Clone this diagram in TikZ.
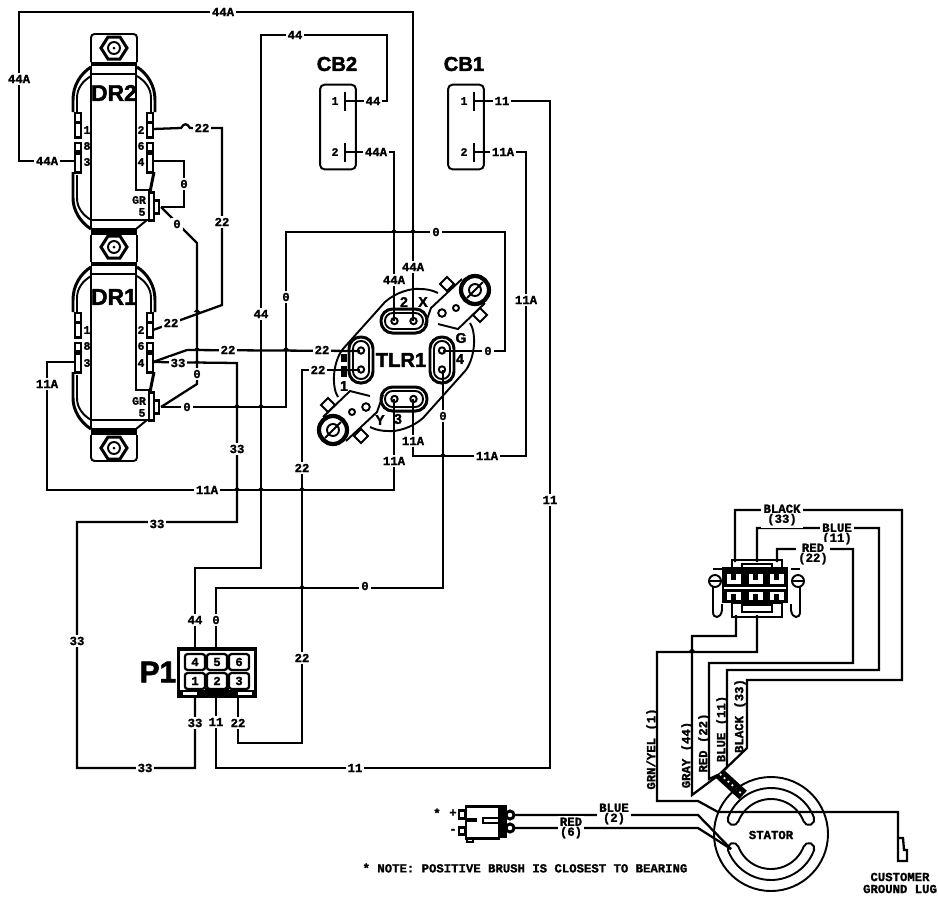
\documentclass[tikz,border=0pt]{standalone}
\usepackage{fontspec}
\setmainfont{Liberation Sans}[BoldFeatures={FakeBold=2}]
\setmonofont{Liberation Mono}[BoldFeatures={FakeBold=1.5}]

\tikzset{
  cadlab/.style={inner sep=0pt, font=\ttfamily\bfseries\fontsize{7}{5.7}\selectfont, align=center},
  wirelab/.style={cadlab, fill=white, inner sep=1.2pt},
  pinlab/.style={inner sep=0pt, font=\ttfamily\bfseries\fontsize{6.5}{6.5}\selectfont},
  biglab/.style={inner sep=0pt, font=\bfseries\fontsize{#1}{#1}\selectfont},
  wire/.style={line width=1.3pt, line join=miter},
  part/.style={line width=1.1pt},
  heavy/.style={line width=1.7pt},
  p1cell/.style={draw, line width=1.3pt, rounded corners=1.5pt, minimum width=11.5pt, minimum height=9pt, inner sep=0pt, font=\ttfamily\bfseries\fontsize{7}{7}\selectfont},
  cbbox/.style={draw, line width=1.1pt, rounded corners=2.5pt, minimum width=20.4pt, minimum height=48.2pt},
}

\begin{document}
\begin{tikzpicture}[x=.02cm, y=-.02cm]

\useasboundingbox (0,0) rectangle (938,897) ;

\coordinate (dr2pin2) at (153,129) ;
\coordinate (dr2pin3) at (75,161) ;
\coordinate (dr2pin4) at (153,161) ;
\coordinate (dr2gnd) at (161,207) ;
\coordinate (dr1pin2) at (153,330) ;
\coordinate (dr1pin3) at (75,362) ;
\coordinate (dr1pin4) at (153,362) ;
\coordinate (dr1gnd) at (161,407) ;
\coordinate (cb2a) at (345,101) ;
\coordinate (cb2b) at (345,152) ;
\coordinate (cb1a) at (474,101) ;
\coordinate (cb1b) at (474,152) ;
\coordinate (tlrxa) at (394,321) ;
\coordinate (tlrxb) at (413,321) ;
\coordinate (tlrya) at (394,399) ;
\coordinate (tlryb) at (413,399) ;
\coordinate (tlrla) at (360,351) ;
\coordinate (tlrlb) at (360,370) ;
\coordinate (tlrga) at (443,351) ;
\coordinate (tlrgb) at (443,370) ;
\coordinate (p1pin4) at (195,650) ;
\coordinate (p1pin5) at (216,650) ;
\coordinate (p1pin1) at (195,695) ;
\coordinate (p1pin2) at (216,695) ;
\coordinate (p1pin3) at (238,695) ;
\coordinate (plugblack) at (735,562) ;
\coordinate (plugblue) at (757,562) ;
\coordinate (plugred) at (777,562) ;
\coordinate (pluggray) at (736,615) ;
\coordinate (pluggrn) at (757,615) ;
\coordinate (statlead) at (720,774) ;
\coordinate (lugtop) at (898,838) ;
\coordinate (brushp) at (515,815) ;
\coordinate (brushn) at (515,828) ;
\coordinate (slotend) at (731,849) ;

\foreach \dy in {0,200} {
\begin{scope}[shift={(114,\dy)}]
\draw [part] (-23,66) to (-23,220) ;
\draw [part] (22,66) to (22,190) to (36,190) ;
\draw [part] (-23,229) to (23,229) ;
\draw [part] (-23,220) to (36,220) ;
\draw [part] (-23,74) to (23,74) ;
\fill (-23,62) rectangle (23,66) ;
\fill (-23,230) rectangle (23,235) ;
\draw [part] (22,229) to (33,220) ;
\draw [part] (-23,220) to (-23,229) ;
\foreach \mx in {1,-1} {
\begin{scope}[xscale=\mx]
\draw [heavy] (-23,67) .. controls (-34,74) and (-41,86) .. (-41,100) to (-41,112) ;
\draw [part] (-23,76) .. controls (-31,81) and (-37,88) .. (-37,98) to (-37,112) ;
\draw [part] (-39,113) rectangle (-33,122) ;
\draw [heavy] (-39,122) rectangle (-33,137) ;
\draw [part] (-39,143) rectangle (-33,151) ;
\draw [heavy] (-39,153) rectangle (-33,172) ;
\end{scope}
}
\draw [heavy] (-41,172) to (-41,198) .. controls (-41,210) and (-34,222) .. (-23,229) ;
\draw [part] (-37,175) to (-37,198) .. controls (-37,208) and (-31,215) .. (-23,220) ;
\draw [heavy] (40,172) to (36,192) ;
\draw [heavy, fill=white] (35,192) rectangle (40,220) ;
\draw [heavy, fill=white] (40,200) rectangle (45,213) ;
\end{scope}
}

\foreach \ny in {48,247,448} {
\draw [heavy, shift={(114,\ny)}] (-13,0) to (-6,-11) to (6,-11) to (13,0) to (6,11) to (-6,11) -- cycle ;
\draw [part, shift={(114,\ny)}] (0,0) circle [radius=6] ;
\fill [shift={(114,\ny)}] (0,0) circle [radius=1.5] ;
}
\draw [part, rounded corners=2pt] (91,62) to (91,34) to (137,34) to (137,62) ;
\draw [part] (91,235) to (91,262) ;
\draw [part] (137,235) to (137,262) ;
\draw [part, rounded corners=2pt] (91,435) to (91,461) to (137,461) to (137,435) ;

\node [biglab=13] (dr2) at (114,93) {DR2} ;
\node [biglab=13] (dr1) at (114,297) {DR1} ;
\node [pinlab] (dr2n1) at (87,130) {1} ;
\node [pinlab] (dr2n8) at (87,146) {8} ;
\node [pinlab] (dr2n3) at (87,162) {3} ;
\node [pinlab] (dr2n2) at (141,130) {2} ;
\node [pinlab] (dr2n6) at (141,146) {6} ;
\node [pinlab] (dr2n4) at (141,162) {4} ;
\node [pinlab] (dr2gr) at (139,200) {GR} ;
\node [pinlab] (dr2n5) at (142,212) {5} ;
\node [pinlab] (dr1n1) at (87,330) {1} ;
\node [pinlab] (dr1n8) at (87,346) {8} ;
\node [pinlab] (dr1n3) at (87,363) {3} ;
\node [pinlab] (dr1n2) at (141,330) {2} ;
\node [pinlab] (dr1n6) at (141,346) {6} ;
\node [pinlab] (dr1n4) at (141,363) {4} ;
\node [pinlab] (dr1gr) at (139,401) {GR} ;
\node [pinlab] (dr1n5) at (142,413) {5} ;

\node [cbbox] (cb2) at (338,127) {} ;
\node [cbbox] (cb1) at (466,127) {} ;
\node [biglab=11.5] (cb2lab) at (337,64) {CB2} ;
\node [biglab=11.5] (cb1lab) at (464,64) {CB1} ;
\draw [heavy] (345,92) to (345,111) ;
\draw [heavy] (345,143) to (345,162) ;
\draw [heavy] (474,92) to (474,111) ;
\draw [heavy] (474,143) to (474,162) ;
\node [pinlab] (cb2n1) at (335,101) {1} ;
\node [pinlab] (cb2n2) at (335,152) {2} ;
\node [pinlab] (cb1n1) at (464,101) {1} ;
\node [pinlab] (cb1n2) at (464,152) {2} ;

\foreach \ra in {0,180} {
\begin{scope}[shift={(404,360)}, rotate=\ra]
\draw [part] (-62,-10) to (-19,-58) .. controls (-8,-68) and (8,-72) .. (16,-71) .. controls (22,-71) and (28,-70) .. (34,-67) ;
\draw [part] (66,-37) .. controls (72,-28) and (72,-5) .. (62,10) ;
\draw [part] (21,-35) to (27,-52) to (58,-81) ;
\draw [part] (81,-57) to (54,-31) to (34,-36) ;
\draw [line width=2.4pt, fill=white] (71,-70) circle [radius=14] ;
\draw [part] (71,-70) circle [radius=6] ;
\draw [part] (63,-62) to (79,-78) ;
\draw [part] (38,-47) circle [radius=3.8] ;
\draw [part] (52,-52) circle [radius=3] ;
\draw [part, fill=white, shift={(43,-76)}] (-7,0) to (0,-7) to (7,0) to (0,7) -- cycle ;
\draw [part, fill=white, shift={(76,-45)}] (-7,0) to (0,-7) to (7,0) to (0,7) -- cycle ;
\end{scope}
}
\foreach \cx/\cy/\ca in {404/321/0,404/399/0,361/360/90,442/360/90} {
\begin{scope}[shift={(\cx,\cy)}, rotate=\ca]
\draw [heavy, rounded corners=6.6pt] (-23,-12) rectangle (23,12) ;
\draw [part, rounded corners=4.4pt] (-19,-8) rectangle (19,8) ;
\draw [part] (-9.5,0) circle [radius=3.2] ;
\draw [part] (9.5,0) circle [radius=3.2] ;
\end{scope}
}
\node [biglab=11.5] (tlr1) at (401,360) {TLR1} ;
\node [biglab=8] (tlrn2) at (404,302) {2} ;
\node [biglab=8] (tlrnx) at (423,302) {X} ;
\node [biglab=8] (tlrng) at (461,338) {G} ;
\node [biglab=8] (tlrn4) at (460,359) {4} ;
\node [biglab=8] (tlrn1) at (344,386) {1} ;
\node [biglab=8] (tlrny) at (380,420) {Y} ;
\node [biglab=8] (tlrn3) at (398,419) {3} ;
\fill (341,354) rectangle (347,362) ;
\fill (341,366) rectangle (347,377) ;

\draw [part, fill=white] (178,648) rectangle (256,697) ;
\draw [heavy] (179,649) rectangle (255,696) ;
\fill (179,690) rectangle (255,697) ;
\fill [white] (183,692) rectangle (197,695) ;
\fill [white] (238,692) rectangle (252,695) ;
\fill (205,688) rectangle (229,698) ;
\node [p1cell] (p1c4) at (195,662) {4} ;
\node [p1cell] (p1c5) at (217,662) {5} ;
\node [p1cell] (p1c6) at (239,662) {6} ;
\node [p1cell, fill=white] (p1c1) at (195,681) {1} ;
\node [p1cell, fill=white] (p1c2) at (217,681) {2} ;
\node [p1cell, fill=white] (p1c3) at (239,681) {3} ;
\node [biglab=17] (p1lab) at (158,672) {P1} ;

\draw [wire] (dr2pin3) to (19,161) to (19,12) to (413,12) to (tlrxb) ;
\draw [wire] (p1pin4) to (195,568) to (261,568) to (261,35) to (387,35) to (387,101) to (cb2a) ;
\draw [wire] (cb2b) to (394,152) to (tlrxa) ;
\draw [wire] (cb1a) to (550,101) to (550,768) to (216,768) to (p1pin2) ;
\draw [wire] (cb1b) to (526,152) to (526,456) to (413,456) to (tlryb) ;
\draw [wire] (tlrya) to (394,490) to (47,490) to (47,362) to (dr1pin3) ;
\draw [wire] (dr2pin4) to (184,161) to (184,207) to (dr2gnd) ;
\draw [wire] (dr2gnd) to (197,243) to (197,384) to (dr1gnd) ;
\draw [wire] (dr1gnd) to (286,407) to (286,232) to (505,232) to (505,351) to (tlrga) ;
\draw [wire] (tlrgb) to (443,588) to (216,588) to (p1pin5) ;
\draw [wire] (dr2pin2) to (181,128) .. controls (184,123) and (187,123) .. (190,128) to (222,128) to (222,305) to (dr1pin2) ;
\draw [wire] (dr1pin4) to (187,350) to (tlrla) ;
\draw [wire] (dr1pin4) to (237,363) to (237,522) to (77,522) to (77,768) to (195,768) to (p1pin1) ;
\draw [wire] (tlrlb) to (302,370) to (302,743) to (238,743) to (p1pin3) ;

\foreach \hx/\hy in {197/312,197/350,197/363,237/407,261/407,286/350,237/490,261/490,302/490,394/232,413/232,443/456,302/588} {
\fill ({\hx-3.5},\hy) to (\hx,{\hy-3.5}) to ({\hx+3.5},\hy) -- cycle ;
}

\node [wirelab] (w01) at (223,12) {44A} ;
\node [wirelab] (w02) at (19,79) {44A} ;
\node [wirelab] (w03) at (47,161) {44A} ;
\node [wirelab] (w04) at (413,267) {44A} ;
\node [wirelab] (w05) at (295,35) {44} ;
\node [wirelab] (w06) at (261,314) {44} ;
\node [wirelab] (w07) at (195,620) {44} ;
\node [wirelab] (w08) at (373,101) {44} ;
\node [wirelab] (w09) at (376,152) {44A} ;
\node [wirelab] (w10) at (394,280) {44A} ;
\node [wirelab] (w11) at (502,101) {11} ;
\node [wirelab] (w12) at (550,500) {11} ;
\node [wirelab] (w13) at (355,768) {11} ;
\node [wirelab] (w14) at (216,722) {11} ;
\node [wirelab] (w15) at (503,152) {11A} ;
\node [wirelab] (w16) at (526,300) {11A} ;
\node [wirelab] (w17) at (487,456) {11A} ;
\node [wirelab] (w18) at (413,441) {11A} ;
\node [wirelab] (w19) at (394,461) {11A} ;
\node [wirelab] (w20) at (207,490) {11A} ;
\node [wirelab] (w21) at (47,384) {11A} ;
\node [wirelab] (w22) at (184,184) {0} ;
\node [wirelab] (w23) at (177,224) {0} ;
\node [wirelab] (w24) at (197,374) {0} ;
\node [wirelab] (w25) at (187,407) {0} ;
\node [wirelab] (w26) at (286,297) {0} ;
\node [wirelab] (w27) at (436,232) {0} ;
\node [wirelab] (w28) at (488,351) {0} ;
\node [wirelab] (w29) at (443,416) {0} ;
\node [wirelab] (w30) at (365,586) {0} ;
\node [wirelab] (w31) at (216,620) {0} ;
\node [wirelab] (w32) at (202,128) {22} ;
\node [wirelab] (w33) at (222,222) {22} ;
\node [wirelab] (w34) at (171,323) {22} ;
\node [wirelab] (w35) at (228,350) {22} ;
\node [wirelab] (w36) at (322,350) {22} ;
\node [wirelab] (w37) at (318,370) {22} ;
\node [wirelab] (w38) at (302,468) {22} ;
\node [wirelab] (w39) at (302,658) {22} ;
\node [wirelab] (w40) at (238,723) {22} ;
\node [wirelab] (w41) at (178,363) {33} ;
\node [wirelab] (w42) at (237,449) {33} ;
\node [wirelab] (w43) at (157,524) {33} ;
\node [wirelab] (w44) at (77,641) {33} ;
\node [wirelab] (w45) at (145,768) {33} ;
\node [wirelab] (w46) at (195,723) {33} ;

\fill (722,567) rectangle (788,603) ;
\draw [part] (732,560) rectangle (782,570) ;
\draw [part] (742,564) rectangle (772,570) ;
\draw [part] (732,603) rectangle (782,617) ;
\draw [part] (742,605) rectangle (772,612) ;
\foreach \cx in {727,749,770} {
\fill [white] (\cx,574) rectangle ({\cx+14},584) ;
\fill [white] (\cx,592) rectangle ({\cx+14},600) ;
\fill ({\cx+4},574) rectangle ({\cx+9},580) ;
\fill ({\cx+4},594) rectangle ({\cx+9},600) ;
}
\draw [white, line width=.8pt] (724,588) to (786,588) ;
\draw [part, fill=white] (715,581) circle [radius=6] ;
\draw [part, fill=white] (798,581) circle [radius=6] ;
\draw [part] (709,581) to (721,581) ;
\draw [part] (792,581) to (804,581) ;
\draw [part] (713,587) to (713,612) .. controls (713,619) and (721,619) .. (722,610) to (722,604) ;
\draw [part] (800,587) to (800,612) .. controls (800,619) and (792,619) .. (791,610) to (791,604) ;
\draw [part] (713,569) to (722,569) ;
\draw [part] (791,569) to (800,569) ;

\draw [wire] (plugblack) to (735,510) to (902,510) to (902,680) to (747,680) to (747,748) to (statlead) ;
\draw [wire] (plugblue) to (757,528) to (879,528) to (879,670) to (727,670) to (727,767) to (statlead) ;
\draw [wire] (plugred) to (777,549) to (853,549) to (853,663) to (709,663) to (709,779) to (statlead) ;
\draw [wire] (pluggray) to (736,636) to (692,636) to (692,795) to (statlead) ;
\draw [wire] (pluggrn) to (757,652) to (657,652) to (657,801) to (698,801) to (718,812) to (898,812) to (lugtop) ;
\fill (688,652) to (692,648) to (696,652) -- cycle ;

\draw [line width=6.5pt] (statlead) to (743,795) ;
\draw [white, line width=1pt, dash pattern=on 1pt off 2pt] (statlead) to (743,795) ;

\draw [part] (771,834) circle [radius=57] ;
\draw [part, shift={(771,834)}] (-159:46) arc [start angle=-159, end angle=-21, radius=46] arc [start angle=-21, end angle=159, radius=5.5] arc [start angle=-21, end angle=-159, radius=35] arc [start angle=21, end angle=201, radius=5.5] -- cycle ;
\draw [part, shift={(771,834)}] (21:46) arc [start angle=21, end angle=159, radius=46] arc [start angle=159, end angle=339, radius=5.5] arc [start angle=159, end angle=21, radius=35] arc [start angle=201, end angle=381, radius=5.5] -- cycle ;
\node [cadlab] (statlab) at (771,835) {STATOR} ;

\draw [wire] (brushp) to (698,815) to (slotend) ;
\draw [wire] (brushn) to (698,828) to (slotend) ;

\draw [heavy] (466,806) rectangle (499,838) ;
\draw [heavy] (459,810) rectangle (465,818) ;
\draw [heavy] (459,827) rectangle (465,834) ;
\draw [part] (467,838) rectangle (473,842) ;
\fill (466,818) rectangle (477,822) ;
\draw [part] (483,818) rectangle (499,823) ;
\fill (500,805) rectangle (507,838) ;
\draw [heavy, fill=white] (510,815) circle [radius=4] ;
\draw [heavy, fill=white] (510,828) circle [radius=4] ;

\node [cadlab] (minusg) at (453,831) {-} ;
\node [cadlab] (plusg) at (453,813) {+} ;
\node [cadlab] (starg) at (437,813) {*} ;

\draw [wire] (lugtop) to (903,838) to (904,850) to (907,850) to (907,861) to (898,861) to (lugtop) ;

\node [wirelab] (lblack) at (782,515) {BLACK\\(33)} ;
\node [wirelab] (lblue) at (837,534) {BLUE\\(11)} ;
\node [wirelab] (lred) at (813,554) {RED\\(22)} ;
\node [wirelab] (lbrushp) at (614,814) {BLUE\\(2)} ;
\node [wirelab] (lbrushn) at (571,828) {RED\\(6)} ;
\node [cadlab, rotate=90] (rblack) at (740,716) {BLACK (33)} ;
\node [cadlab, rotate=90] (rblue) at (722,729) {BLUE (11)} ;
\node [cadlab, rotate=90] (rred) at (704,743) {RED (22)} ;
\node [cadlab, rotate=90] (rgray) at (687,755) {GRAY (44)} ;
\node [cadlab, rotate=90] (rgrn) at (652,749) {GRN/YEL (1)} ;
\node [cadlab] (note) at (525,868) {* NOTE: POSITIVE BRUSH IS CLOSEST TO BEARING} ;
\node [cadlab] (lug1) at (900,877) {CUSTOMER} ;
\node [cadlab] (lug2) at (900,889) {GROUND LUG} ;

\end{tikzpicture}
\end{document}
